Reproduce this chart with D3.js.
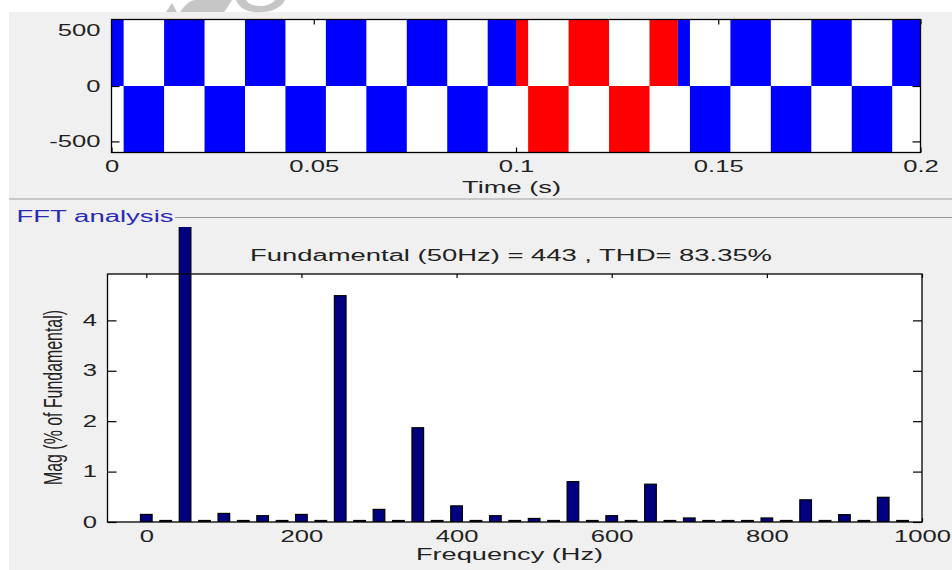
<!DOCTYPE html>
<html>
<head>
<meta charset="utf-8">
<script src="https://cdn.jsdelivr.net/npm/d3@7"></script>
<style>
  body { margin: 0; background: #fff; }
  text { font-family: "Liberation Sans", Arial, sans-serif; }
</style>
</head>
<body>
<div id="chart"></div>
<script>
var width = 952
var height = 570
var SX = 1.6   // the screenshot is stretched sideways, so is the text

// top panel: inverter output voltage (V) vs time (s)
var switchTimes = [0, 0.003, 0.013, 0.023, 0.033, 0.043, 0.053, 0.063, 0.073, 0.083, 0.093,
                   0.103, 0.113, 0.123, 0.133, 0.143, 0.153, 0.163, 0.173, 0.183, 0.193, 0.2]
var levels = [600, -600, 600, -600, 600, -600, 600, -600, 600, -600, 600,
              -600, 600, -600, 600, -600, 600, -600, 600, -600, 600]
var selWindow = [0.1, 0.14]   // red part = FFT window
var timeTicks = [0, 0.05, 0.1, 0.15, 0.2]
var timeTickLabels = ["0", "0.05", "0.1", "0.15", "0.2"]
var voltTicks = [-500, 0, 500]

// bottom panel: harmonic spectrum (% of fundamental)
var freqs = [0, 25, 50, 75, 100, 125, 150, 175, 200, 225, 250, 275, 300, 325, 350, 375,
             400, 425, 450, 475, 500, 525, 550, 575, 600, 625, 650, 675, 700, 725, 750, 775,
             800, 825, 850, 875, 900, 925, 950, 975]
var mags = [0.15, 0.03, 100, 0.03, 0.17, 0.03, 0.125, 0.03, 0.15, 0.03, 4.49, 0.03, 0.25, 0.03, 1.87, 0.03,
            0.32, 0.03, 0.125, 0.03, 0.07, 0.03, 0.80, 0.03, 0.125, 0.03, 0.75, 0.03, 0.08, 0.03, 0.03, 0.03,
            0.08, 0.03, 0.44, 0.03, 0.145, 0.03, 0.49, 0.03]
var freqTicks = [0, 200, 400, 600, 800, 1000]
var magTicks = [0, 1, 2, 3, 4]
var titleText = "Fundamental (50Hz) = 443 , THD= 83.35%"

var plain = function(d) { return String(d) }

var svg = d3.select("#chart").append("svg").attr("width", width).attr("height", height)

svg.append("rect").attr("width", width).attr("height", height).attr("fill", "#fff")
svg.append("rect").attr("x", 9).attr("y", 12).attr("width", width - 9).attr("height", height - 12).attr("fill", "#f0f0f0")

// faded watermark at the very top
var wm = svg.append("g").attr("fill", "#c6c6c6")
wm.append("path").attr("d", "M166,12 L172,3 L177,12 Z")
wm.append("path").attr("d", "M180,12 C186,4 190,0 196,0 L232,0 C228,6 226,10 224,12 Z")
wm.append("path").attr("d", "M236,0 C240,10 250,13 262,12 C274,12 282,6 285,0 L275,0 C272,4 266,6 260,6 C252,6 248,3 246,0 Z")

svg.append("line").attr("x1", 9).attr("x2", width).attr("y1", 199).attr("y2", 199).attr("stroke", "#a0a0a0")

function stretchText(sel) {
    sel.attr("transform", "scale(" + SX + ",1)")
}

// ---------- top panel ----------
var xT = d3.scaleLinear().domain([0, 0.2]).range([111.5, 920.5])
var yT = d3.scaleLinear().domain([-600, 600]).range([152.5, 19.5])

svg.append("rect").attr("x", xT(0)).attr("y", yT(600)).attr("width", xT(0.2) - xT(0)).attr("height", yT(-600) - yT(600)).attr("fill", "#fff")

var axB = svg.append("g").attr("transform", "translate(0," + yT(-600) + ")")
    .call(d3.axisBottom(xT).tickValues(timeTicks).tickFormat(function(d, i) { return timeTickLabels[i] }).tickSize(-5).tickPadding(8))
svg.append("g").attr("transform", "translate(0," + yT(600) + ")")
    .call(d3.axisTop(xT).tickValues(timeTicks).tickFormat("").tickSize(-5))
var axL = svg.append("g").attr("transform", "translate(" + xT(0) + ",0)")
    .call(d3.axisLeft(yT).tickValues(voltTicks).tickFormat(plain).tickSize(-8))
svg.append("g").attr("transform", "translate(" + xT(0.2) + ",0)")
    .call(d3.axisRight(yT).tickValues(voltTicks).tickFormat("").tickSize(-8))

// pieces of the square wave, split at the FFT window edges
var pieces = []
for (var i = 0; i < levels.length; i++) {
    var cuts = [switchTimes[i], switchTimes[i + 1]]
    selWindow.forEach(function(w) { if (w > cuts[0] && w < cuts[cuts.length - 1]) cuts.splice(cuts.length - 1, 0, w) })
    for (var j = 0; j < cuts.length - 1; j++) {
        var mid = (cuts[j] + cuts[j + 1]) / 2
        pieces.push({ t0: cuts[j], t1: cuts[j + 1], v: levels[i], sel: mid > selWindow[0] && mid < selWindow[1] })
    }
}
svg.append("g").selectAll("rect").data(pieces).enter().append("rect")
    .attr("x", function(d) { return xT(d.t0) })
    .attr("width", function(d) { return xT(d.t1) - xT(d.t0) })
    .attr("y", function(d) { return Math.min(yT(0), yT(d.v)) })
    .attr("height", function(d) { return Math.abs(yT(d.v) - yT(0)) })
    .attr("fill", function(d) { return d.sel ? "#ff0000" : "#0000ff" })

svg.append("rect").attr("x", xT(0)).attr("y", yT(600)).attr("width", xT(0.2) - xT(0)).attr("height", yT(-600) - yT(600))
    .attr("fill", "none").attr("stroke", "#000").attr("stroke-width", 1.3)

svg.append("text").attr("x", 462).attr("y", 193).attr("font-size", 16).attr("fill", "#222")
    .attr("textLength", 99).attr("lengthAdjust", "spacingAndGlyphs").text("Time (s)")

// ---------- FFT panel ----------
svg.append("line").attr("x1", 175).attr("x2", width).attr("y1", 217.5).attr("y2", 217.5).attr("stroke", "#999")
svg.append("text").attr("x", 16.5).attr("y", 221.5).attr("font-size", 16).attr("fill", "#2a2ab8")
    .attr("textLength", 157).attr("lengthAdjust", "spacingAndGlyphs").text("FFT analysis")

var xF = d3.scaleLinear().domain([-50, 1000]).range([107.5, 922])
var yF = d3.scaleLinear().domain([0, 4.92]).range([522, 274])

svg.append("rect").attr("x", xF(-50)).attr("y", yF(4.92)).attr("width", xF(1000) - xF(-50)).attr("height", yF(0) - yF(4.92)).attr("fill", "#fff")

var fB = svg.append("g").attr("transform", "translate(0," + yF(0) + ")")
    .call(d3.axisBottom(xF).tickValues(freqTicks).tickFormat(plain).tickSize(-4).tickPadding(9))
svg.append("g").attr("transform", "translate(0," + yF(4.92) + ")")
    .call(d3.axisTop(xF).tickValues(freqTicks).tickFormat("").tickSize(-4))
var fL = svg.append("g").attr("transform", "translate(" + xF(-50) + ",0)")
    .call(d3.axisLeft(yF).tickValues(magTicks).tickFormat(plain).tickSize(-9))
svg.append("g").attr("transform", "translate(" + xF(1000) + ",0)")
    .call(d3.axisRight(yF).tickValues(magTicks).tickFormat("").tickSize(-9))

svg.append("clipPath").attr("id", "barclip").append("rect")
    .attr("x", 0).attr("y", 227).attr("width", width).attr("height", yF(0) - 227)

var barW = 15
svg.append("g").attr("clip-path", "url(#barclip)").selectAll("rect").data(freqs).enter().append("rect")
    .attr("x", function(d) { return xF(d - barW / 2) })
    .attr("width", xF(barW) - xF(0))
    .attr("y", function(d, i) { return yF(mags[i]) })
    .attr("height", function(d, i) { return yF(0) - yF(mags[i]) })
    .attr("fill", "#000080").attr("stroke", "#000").attr("stroke-width", 1.2)

svg.append("rect").attr("x", xF(-50)).attr("y", yF(4.92)).attr("width", xF(1000) - xF(-50)).attr("height", yF(0) - yF(4.92))
    .attr("fill", "none").attr("stroke", "#000").attr("stroke-width", 1.3)

svg.append("text").attr("x", 250).attr("y", 260.5).attr("font-size", 16).attr("fill", "#222")
    .attr("textLength", 522).attr("lengthAdjust", "spacingAndGlyphs").text(titleText)
svg.append("text").attr("x", 416).attr("y", 560).attr("font-size", 16).attr("fill", "#222")
    .attr("textLength", 187).attr("lengthAdjust", "spacingAndGlyphs").text("Frequency (Hz)")
svg.append("text").attr("transform", "translate(62,397.5) scale(" + SX + ",1) rotate(-90)")
    .attr("text-anchor", "middle").attr("font-size", 16).attr("fill", "#222")
    .attr("textLength", 175).attr("lengthAdjust", "spacingAndGlyphs").text("Mag (% of Fundamental)")

// shared axis styling
svg.selectAll(".domain").remove()
svg.selectAll(".tick line").attr("stroke", "#000").attr("stroke-width", 1.2)
svg.selectAll(".tick text").attr("font-size", 16).attr("fill", "#222").attr("font-family", "Liberation Sans, Arial, sans-serif")
axB.selectAll(".tick text").call(stretchText)
fB.selectAll(".tick text").call(stretchText)
axL.selectAll(".tick text").attr("x", -11 / SX).call(stretchText)
fL.selectAll(".tick text").attr("x", -10.5 / SX).call(stretchText)
</script>
</body>
</html>
